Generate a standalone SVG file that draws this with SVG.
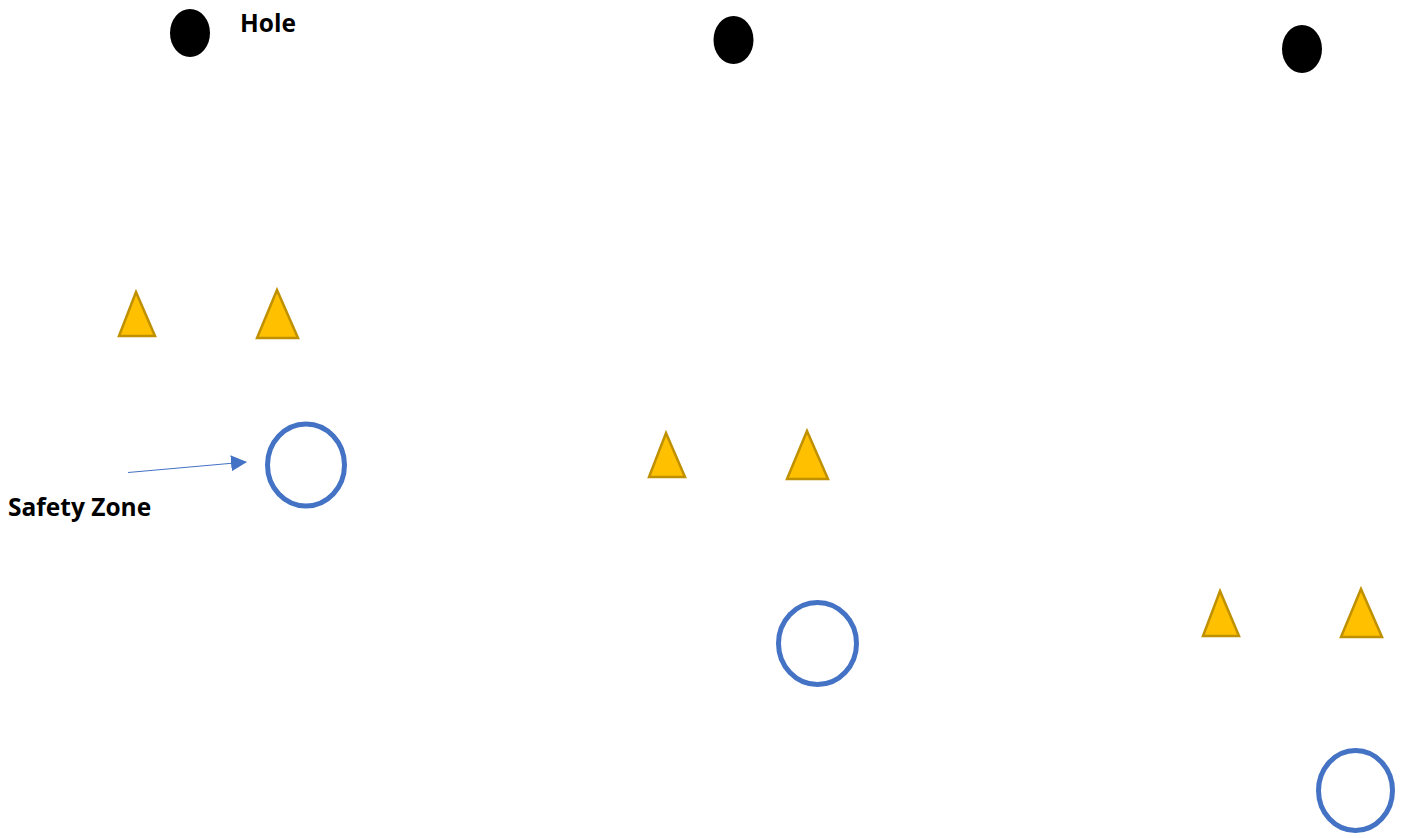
<svg xmlns="http://www.w3.org/2000/svg" width="1401" height="838" viewBox="0 0 1401 838">
<style>
.hole{fill:#000}
.cone{fill:#FFC000;stroke:#BF9000;stroke-width:2.5;stroke-linejoin:miter}
.zone{fill:none;stroke:#4472C4;stroke-width:5}
.lbl{font-family:"Open Sans","Liberation Sans",sans-serif;font-weight:bold;font-size:24.5px;fill:#000}
.conn{stroke:#4472C4;stroke-width:1.2;fill:none}
</style>
<defs>
<marker id="arr" markerUnits="userSpaceOnUse" markerWidth="16" markerHeight="16" refX="15" refY="8" orient="auto">
<path d="M0,0 L16,8 L0,16 Z" fill="#4472C4"/>
</marker>
</defs>
<rect width="1401" height="838" fill="#fff"/>
<g id="hole1"><ellipse class="hole" cx="190" cy="33" rx="20" ry="24"/></g>
<g id="hole2"><ellipse class="hole" cx="733.5" cy="40" rx="20" ry="24"/></g>
<g id="hole3"><ellipse class="hole" cx="1302" cy="49" rx="20" ry="24"/></g>
<g id="label-hole"><text class="lbl" x="240" y="32">Hole</text></g>
<g id="cone1"><path class="cone" d="M136,292 L155,336 L119,336 Z"/></g>
<g id="cone2"><path class="cone" d="M277,290 L298,338 L257,338 Z"/></g>
<g id="cone3"><path class="cone" d="M666,433 L685,477 L649,477 Z"/></g>
<g id="cone4"><path class="cone" d="M807,431 L828,479 L787,479 Z"/></g>
<g id="cone5"><path class="cone" d="M1220,591 L1239,636 L1203,636 Z"/></g>
<g id="cone6"><path class="cone" d="M1361,589 L1382,637 L1341,637 Z"/></g>
<g id="zone1"><ellipse class="zone" cx="306" cy="465" rx="38.5" ry="41"/></g>
<g id="zone2"><ellipse class="zone" cx="817.5" cy="643.5" rx="39" ry="41"/></g>
<g id="zone3"><ellipse class="zone" cx="1355.5" cy="790.5" rx="37" ry="40"/></g>
<g id="label-safety"><text class="lbl" x="8" y="516">Safety Zone</text></g>
<g id="connectors"><line class="conn" x1="128" y1="472.5" x2="246" y2="462" marker-end="url(#arr)"/></g>
</svg>
